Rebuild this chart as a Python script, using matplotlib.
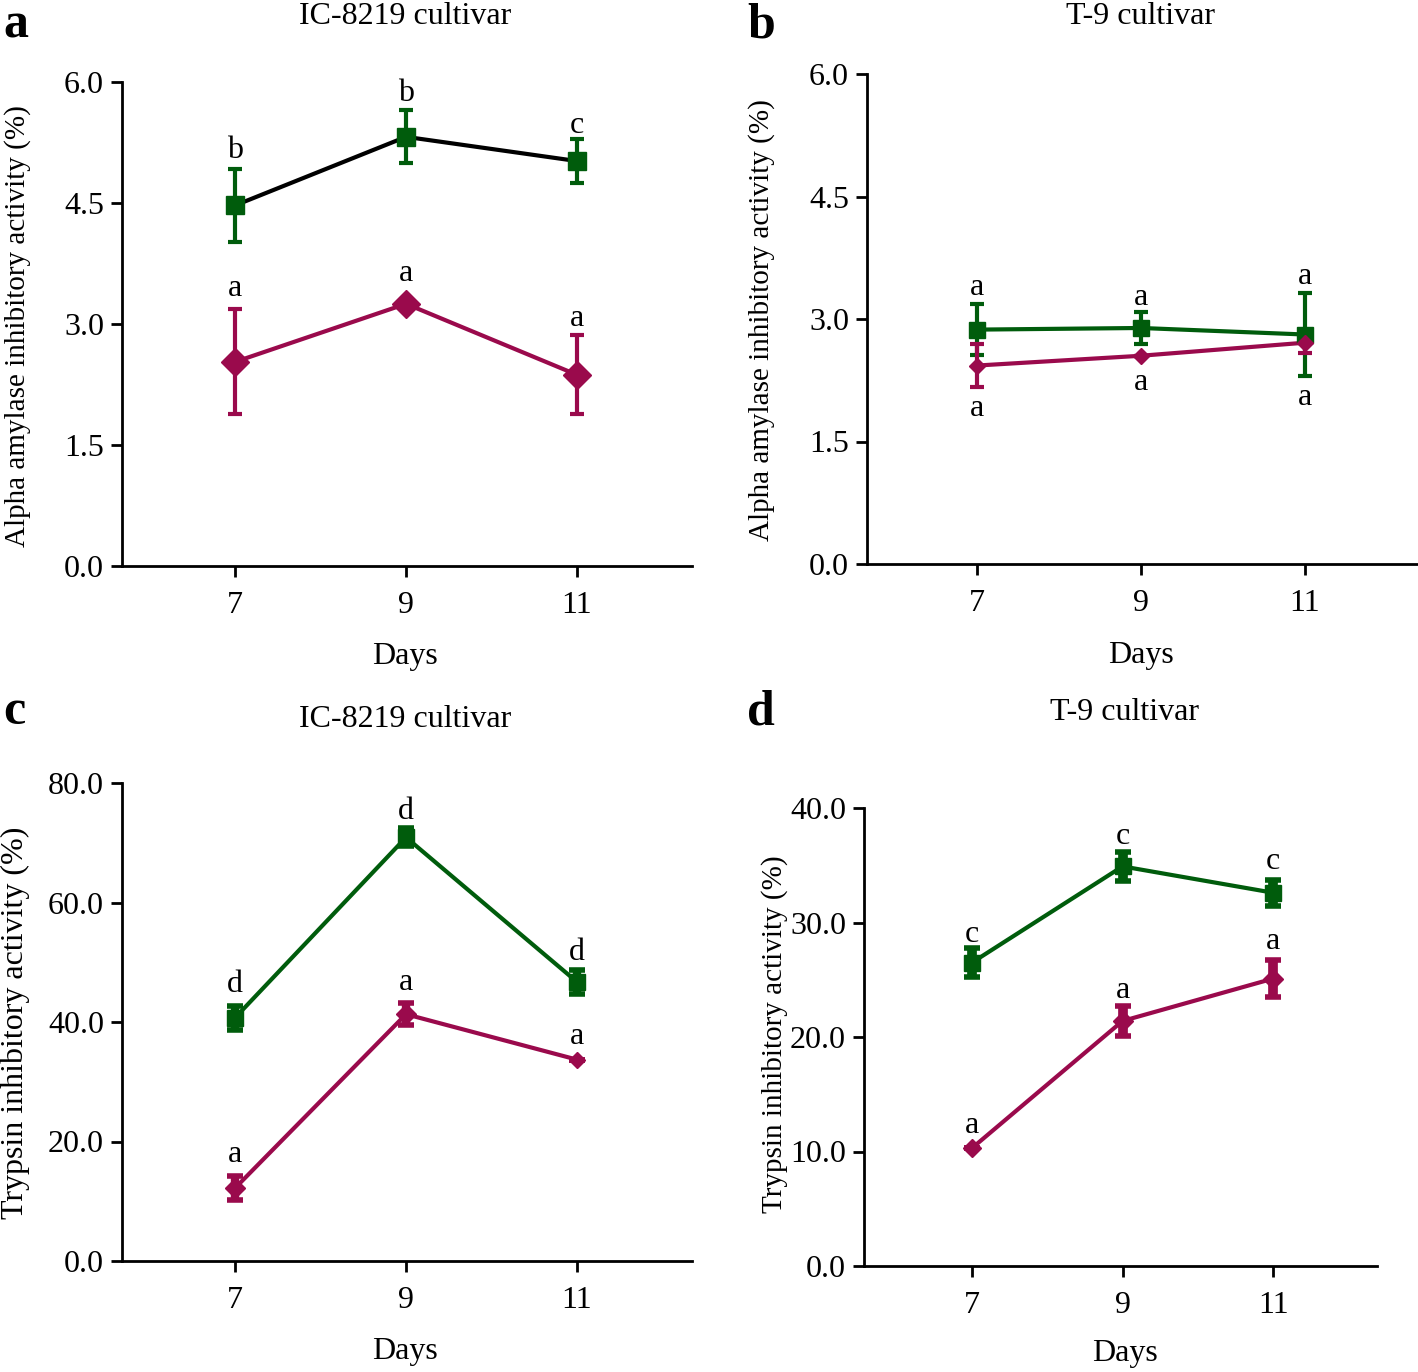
import numpy as np
import matplotlib
matplotlib.use("Agg")
import matplotlib.pyplot as plt

plt.rcParams['font.family'] = ['Liberation Serif', 'DejaVu Serif']

days = [7, 9, 11]

# a) alpha amylase, IC-8219
a_green = [4.47, 5.32, 5.02]
a_green_err = [0.45, 0.33, 0.27]
a_pink = [2.53, 3.25, 2.37]
a_pink_err = [0.65, 0.0, 0.49]
a_green_lab = ['b', 'b', 'c']
a_pink_lab = ['a', 'a', 'a']

# b) alpha amylase, T-9
b_green = [2.87, 2.89, 2.81]
b_green_err = [0.31, 0.19, 0.51]
b_pink = [2.43, 2.55, 2.71]
b_pink_err = [0.26, 0.0, 0.13]
b_green_lab = ['a', 'a', 'a']
b_pink_lab = ['a', 'a', 'a']

# c) trypsin, IC-8219
c_green = [40.7, 70.9, 46.7]
c_green_err = [2.0, 1.5, 2.0]
c_pink = [12.2, 41.3, 33.7]
c_pink_err = [2.0, 1.8, 0.0]
c_green_lab = ['d', 'd', 'd']
c_pink_lab = ['a', 'a', 'a']

# d) trypsin, T-9
d_green = [26.5, 34.9, 32.6]
d_green_err = [1.25, 1.25, 1.15]
d_pink = [10.3, 21.4, 25.1]
d_pink_err = [0.0, 1.3, 1.65]
d_green_lab = ['c', 'c', 'c']
d_pink_lab = ['a', 'a', 'a']

GREEN = '#005c0c'
PINK = '#9a0a4c'
FS = 23

W, H = 1418, 1372
fig = plt.figure(figsize=(W / 100, H / 100), dpi=100)


def fx(px):
    return px / W


def fy(py):
    return 1 - py / H


def panel(box, xlim, ylim, yticks, green, gerr, pink, perr, glab, plab,
          glab_y, plab_y, gline, msz, dsz, elw, capw, capt):
    l, t, r, b = box
    ax = fig.add_axes([fx(l), fy(b), fx(r) - fx(l), fy(t) - fy(b)])
    ax.errorbar(days, green, yerr=gerr, color=GREEN, ecolor=GREEN, marker='s',
                markersize=msz, lw=0, elinewidth=elw, capsize=capw, capthick=capt, zorder=3)
    ax.plot(days, green, color=gline, lw=3, zorder=2)
    ax.errorbar(days, pink, yerr=perr, color=PINK, ecolor=PINK, marker='D',
                markersize=0, lw=0, elinewidth=elw, capsize=capw, capthick=capt, zorder=3)
    ax.plot(days, pink, color=PINK, lw=3, zorder=2)
    for x, y, s in zip(days, pink, dsz):
        ax.plot(x, y, marker='D', color=PINK, markersize=s, zorder=4)
    for x, y, s in zip(days, glab_y, glab):
        ax.text(x, y, s, ha='center', va='center', fontsize=FS)
    for x, y, s in zip(days, plab_y, plab):
        ax.text(x, y, s, ha='center', va='center', fontsize=FS)
    ax.set_xlim(*xlim)
    ax.set_ylim(*ylim)
    ax.set_xticks(days)
    ax.set_yticks(yticks)
    ax.set_yticklabels(['%.1f' % v for v in yticks])
    ax.spines['top'].set_visible(False)
    ax.spines['right'].set_visible(False)
    for s in ('left', 'bottom'):
        ax.spines[s].set_linewidth(2)
    ax.tick_params(width=2, length=8, labelsize=FS, pad=5)
    ax.tick_params(axis='x', pad=10)
    return ax


panel((122, 82, 692, 566), (5.678, 12.345), (0, 6), [0, 1.5, 3.0, 4.5, 6.0],
      a_green, a_green_err, a_pink, a_pink_err, a_green_lab, a_pink_lab,
      [5.15, 5.86, 5.46], [3.44, 3.62, 3.07], 'black', 13, [14, 14, 14], 3, 5, 3)
panel((867, 74, 1417, 564), (5.659, 12.366), (0, 6), [0, 1.5, 3.0, 4.5, 6.0],
      b_green, b_green_err, b_pink, b_pink_err, b_green_lab, b_pink_lab,
      [3.39, 3.26, 3.52], [1.90, 2.22, 2.04], GREEN, 11, [8, 8, 8], 3, 5, 3)
panel((122, 783, 692, 1261), (5.678, 12.345), (0, 80), [0, 20.0, 40.0, 60.0, 80.0],
      c_green, c_green_err, c_pink, c_pink_err, c_green_lab, c_pink_lab,
      [46.3, 75.3, 51.7], [17.8, 46.6, 37.6], GREEN, 12, [10, 10, 8], 6, 6, 4)
panel((864, 808, 1377, 1266), (5.565, 12.38), (0, 40), [0, 10.0, 20.0, 30.0, 40.0],
      d_green, d_green_err, d_pink, d_pink_err, d_green_lab, d_pink_lab,
      [28.95, 37.5, 35.3], [12.3, 24.1, 28.3], GREEN, 12, [9, 10, 10], 7, 6, 4)

# panel letters, titles, axis labels
for s, x, y in [('a', 3, 38), ('b', 747, 38), ('c', 3, 724), ('d', 747, 724)]:
    fig.text(fx(x), fy(y), s, fontsize=36, fontweight='bold', va='baseline', ha='left')
for s, x, y in [('IC-8219 cultivar', 405, 16), ('T-9 cultivar', 1140, 16),
                ('IC-8219 cultivar', 405, 720), ('T-9 cultivar', 1125, 713)]:
    fig.text(fx(x), fy(y), s, fontsize=FS, ha='center', va='center')
for x, y in [(405, 657), (1141, 655), (405, 1352), (1125, 1354)]:
    fig.text(fx(x), fy(y), 'Days', fontsize=FS, ha='center', va='center')
for s, x, y, fs in [('Alpha amylase inhibitory activity (%)', 18, 326, 21),
                    ('Alpha amylase inhibitory activity (%)', 762, 320, 21),
                    ('Trypsin inhibitory activity (%)', 15, 1023, 23),
                    ('Trypsin inhibitory activity (%)', 775, 1034, 21)]:
    fig.text(fx(x), fy(y), s, fontsize=fs, ha='center', va='center', rotation=90)

fig.savefig('out.png', dpi=100)
